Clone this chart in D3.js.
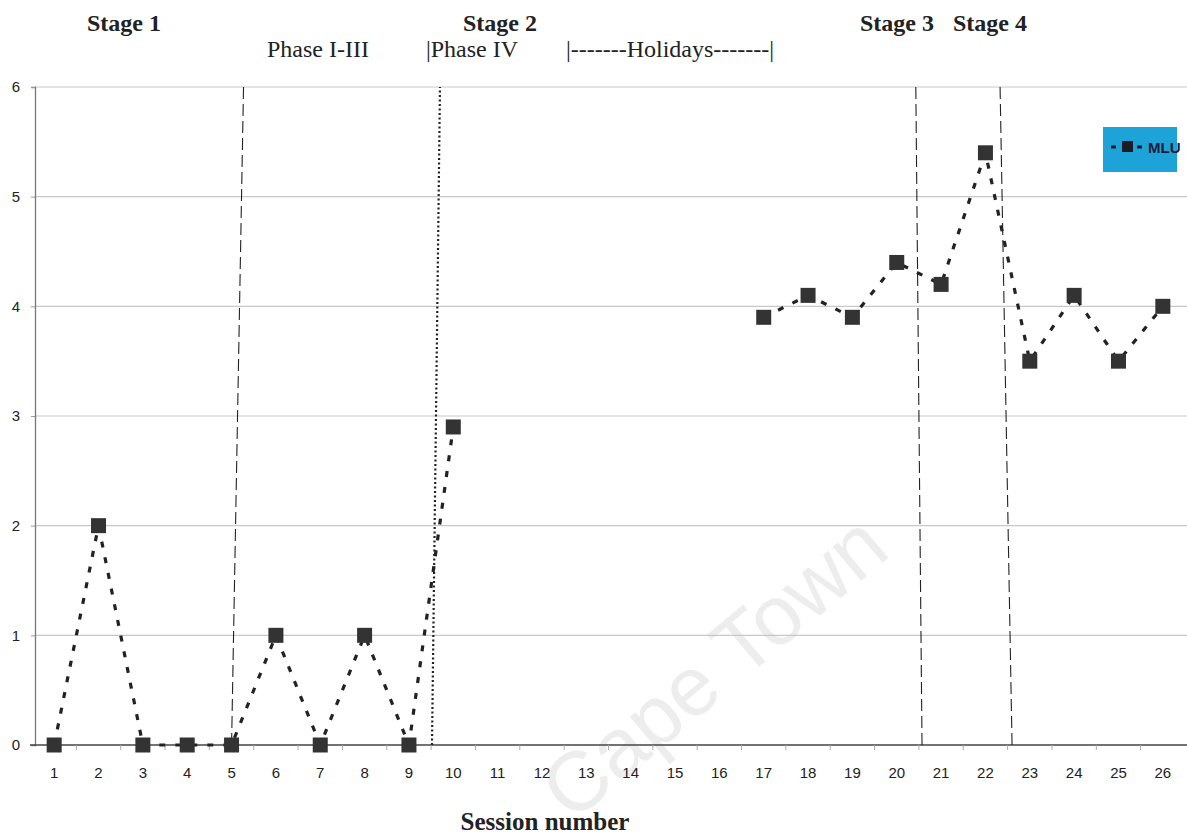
<!DOCTYPE html>
<html>
<head>
<meta charset="utf-8">
<script src="https://cdn.jsdelivr.net/npm/d3@7"></script>
<style>
  body { margin: 0; background: #fff; }
  svg { display: block; }
  .y-axis text, .x-axis text { font-family: "Liberation Sans", Arial, sans-serif; font-size: 15px; fill: #222; }
  .serif { font-family: "Liberation Serif", "Times New Roman", serif; fill: #222; }
</style>
</head>
<body>
<div id="chart"></div>
<script>
// data
const sessions = d3.range(1, 27);
const mlu = [0, 2, 0, 0, 0, 1, 0, 1, 0, 2.9, null, null, null, null, null, null,
  3.9, 4.1, 3.9, 4.4, 4.2, 5.4, 3.5, 4.1, 3.5, 4.0];
const yTicks = [0, 1, 2, 3, 4, 5, 6];

// phase divider lines: session position at bottom / top of plot
const dividers = [
  { bottom: 5.0, top: 5.27, style: "dash" },
  { bottom: 9.52, top: 9.7, style: "dot" },
  { bottom: 20.57, top: 20.43, style: "dash" },
  { bottom: 22.6, top: 22.33, style: "dash" }
];

const stageLabels = [
  { text: "Stage 1", x: 124, y: 31, bold: true },
  { text: "Stage 2", x: 500, y: 31, bold: true },
  { text: "Stage 3", x: 897, y: 31, bold: true },
  { text: "Stage 4", x: 990, y: 31, bold: true },
  { text: "Phase I-III", x: 318, y: 57, bold: false },
  { text: "|Phase IV", x: 472, y: 57, bold: false },
  { text: "|-------Holidays-------|", x: 670, y: 57, bold: false }
];

const width = 1187, height = 836;
const margin = { top: 87, right: 2, bottom: 91, left: 35 };

const svg = d3.select("#chart").append("svg")
  .attr("width", width).attr("height", height);

// scales
const xScale = d3.scaleBand()
  .domain(sessions)
  .range([32, 1185]);

// continuous version for positions between sessions
const xPos = d3.scaleLinear()
  .domain([1, 26])
  .range([xScale(1) + xScale.bandwidth() / 2, xScale(26) + xScale.bandwidth() / 2]);

const yScale = d3.scaleLinear()
  .domain([0, 6])
  .range([height - margin.bottom, margin.top]);

// watermark
svg.append("text")
  .attr("transform", "translate(718,672) rotate(-40)")
  .attr("text-anchor", "middle")
  .attr("dominant-baseline", "middle")
  .style("font-family", "Liberation Sans, Arial, sans-serif")
  .style("font-size", "84px")
  .style("fill", "#ededed")
  .text("Cape Town");

// gridlines
svg.append("g")
  .attr("class", "grid")
  .selectAll("line")
  .data(yTicks.filter((d) => d > 0))
  .enter()
  .append("line")
  .attr("x1", margin.left)
  .attr("x2", width)
  .attr("y1", (d) => yScale(d))
  .attr("y2", (d) => yScale(d))
  .attr("stroke", "#c8c8c8")
  .attr("stroke-width", 1.2);

// y axis
const yAxis = d3.axisLeft(yScale).tickValues(yTicks).tickFormat(d3.format("d")).tickSize(4);
svg.append("g")
  .attr("class", "y-axis")
  .attr("transform", `translate(${margin.left},0)`)
  .call(yAxis)
  .call((g) => g.select(".domain").attr("stroke", "#777").attr("stroke-width", 1.3))
  .call((g) => g.selectAll(".tick line").attr("stroke", "#999"))
  .call((g) => g.selectAll(".tick text").attr("text-anchor", "middle").attr("x", -19));

// x axis
const xAxis = d3.axisBottom(xScale).tickSize(0).tickPadding(22);
svg.append("g")
  .attr("class", "x-axis")
  .attr("transform", `translate(0,${yScale(0)})`)
  .call(xAxis)
  .call((g) => g.select(".domain").remove());

svg.append("line")
  .attr("x1", margin.left - 5)
  .attr("x2", width)
  .attr("y1", yScale(0))
  .attr("y2", yScale(0))
  .attr("stroke", "#444")
  .attr("stroke-width", 1.4);

// minor ticks between sessions
svg.append("g")
  .selectAll("line")
  .data(sessions.slice(1))
  .enter()
  .append("line")
  .attr("x1", (d) => xScale(d))
  .attr("x2", (d) => xScale(d))
  .attr("y1", yScale(0))
  .attr("y2", yScale(0) + 5)
  .attr("stroke", "#aaa");

// divider lines
svg.append("g")
  .selectAll("line")
  .data(dividers)
  .enter()
  .append("line")
  .attr("x1", (d) => xPos(d.bottom))
  .attr("x2", (d) => xPos(d.top))
  .attr("y1", yScale(0))
  .attr("y2", yScale(6))
  .attr("stroke", "#222")
  .attr("stroke-width", (d) => (d.style === "dot" ? 2.2 : 1.1))
  .attr("stroke-dasharray", (d) => (d.style === "dot" ? "2,2.5" : "12,5"));

// series
const points = sessions.map((s, i) => ({ s, v: mlu[i] }));

const line = d3.line()
  .defined((d) => d.v !== null)
  .x((d) => xPos(d.s))
  .y((d) => yScale(d.v));

svg.append("path")
  .datum(points)
  .attr("d", line)
  .attr("fill", "none")
  .attr("stroke", "#222")
  .attr("stroke-width", 3.2)
  .attr("stroke-dasharray", "6,10");

const markerSize = 15;
svg.append("g")
  .selectAll("rect")
  .data(points.filter((d) => d.v !== null))
  .enter()
  .append("rect")
  .attr("x", (d) => xPos(d.s) - markerSize / 2)
  .attr("y", (d) => yScale(d.v) - markerSize / 2)
  .attr("width", markerSize)
  .attr("height", markerSize)
  .attr("fill", "#333");

// legend
const legend = svg.append("g").attr("transform", "translate(1103,127)");
legend.append("rect")
  .attr("width", 74)
  .attr("height", 45)
  .attr("fill", "#1ea3d8");
legend.append("line")
  .attr("x1", 8).attr("x2", 42)
  .attr("y1", 20).attr("y2", 20)
  .attr("stroke", "#1b1b2a")
  .attr("stroke-width", 3)
  .attr("stroke-dasharray", "5,8");
legend.append("rect")
  .attr("x", 19).attr("y", 14)
  .attr("width", 11).attr("height", 11)
  .attr("fill", "#1b1b2a");
legend.append("text")
  .attr("x", 45).attr("y", 26)
  .style("font-family", "Liberation Sans, Arial, sans-serif")
  .style("font-weight", "bold")
  .style("font-size", "15px")
  .style("fill", "#1b1b3a")
  .text("MLU");

// header labels
svg.append("g")
  .selectAll("text")
  .data(stageLabels)
  .enter()
  .append("text")
  .attr("class", "serif")
  .attr("x", (d) => d.x)
  .attr("y", (d) => d.y)
  .attr("text-anchor", "middle")
  .style("font-size", "24px")
  .style("font-weight", (d) => (d.bold ? "bold" : "normal"))
  .text((d) => d.text);

// axis title
svg.append("text")
  .attr("class", "serif")
  .attr("x", 545)
  .attr("y", 830)
  .attr("text-anchor", "middle")
  .style("font-size", "25px")
  .style("font-weight", "bold")
  .text("Session number");
</script>
</body>
</html>
